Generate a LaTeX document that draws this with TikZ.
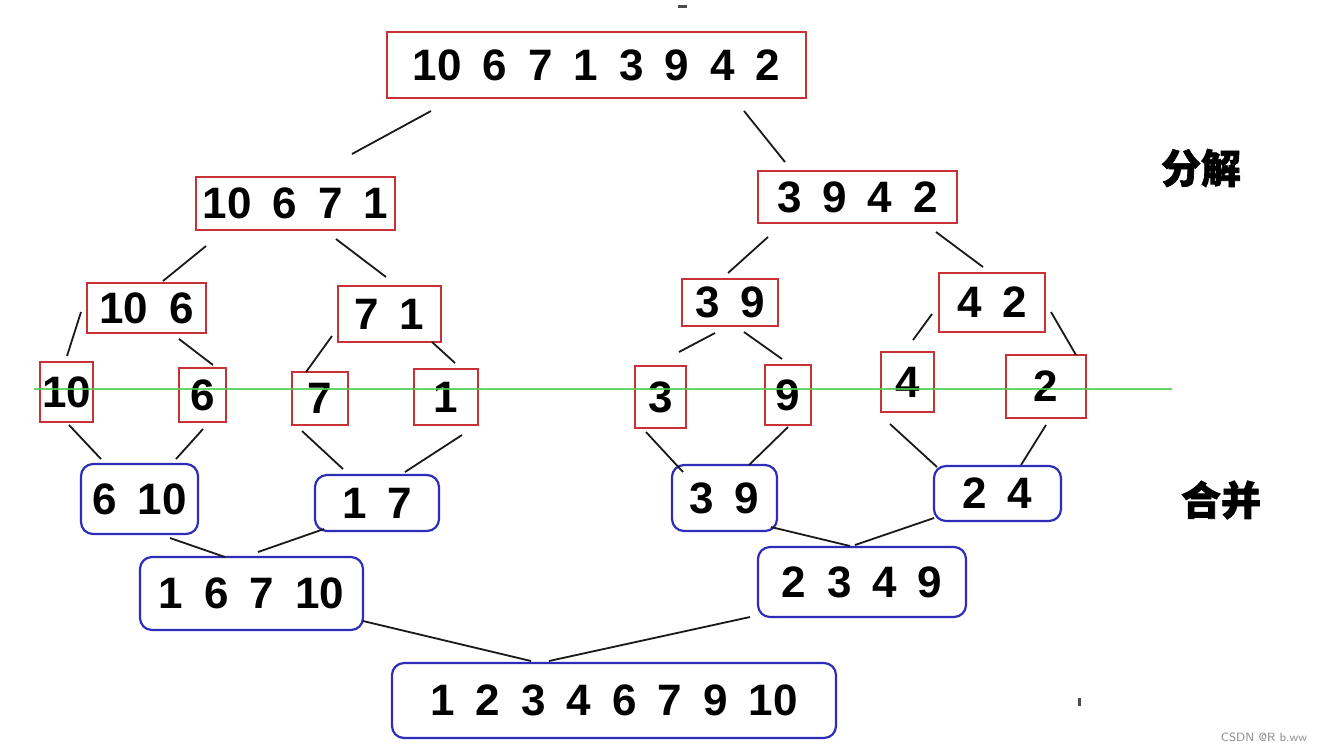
\documentclass[tikz,border=0pt]{standalone}
\usepackage{fontspec}
\setmainfont{Liberation Sans}
\newfontfamily\cjk{Noto Sans CJK SC}[BoldFeatures={FakeBold=1.6}]
\definecolor{boxred}{RGB}{200,50,55}
\definecolor{boxblue}{RGB}{45,45,185}
\definecolor{cutgreen}{RGB}{80,205,80}
\newcommand\mynumfont{\bfseries\fontsize{22}{24}\selectfont\spaceskip 10.5pt\relax}
\begin{document}
\begin{tikzpicture}[x=0.5pt,y=-0.5pt,
  num/.style={font=\mynumfont, inner sep=0pt, text=black},
  redbox/.style={num, draw=boxred, line width=1pt},
  bluebox/.style={num, draw=boxblue, line width=1.1pt, rounded corners=6pt},
  link/.style={line width=0.9pt, draw=black!90},
  lbl/.style={font=\cjk\bfseries\fontsize{20}{22}\selectfont, inner sep=0pt},
  cut/.style={draw=cutgreen, line width=1.3pt, opacity=0.85}]
\useasboundingbox (0,0) rectangle (1322,752);
\fill[white] (0,0) rectangle (1322,752);
% split (red) boxes
\node[redbox, minimum width=209.5pt, minimum height=33pt] (top) at (596.5,65) {10 6 7 1 3 9 4 2};
\node[redbox, minimum width=99.5pt, minimum height=26.5pt] (la) at (295.5,203.5) {10 6 7 1};
\node[redbox, minimum width=99.5pt, minimum height=26pt] (lb) at (857.5,197) {3 9 4 2};
\node[redbox, minimum width=59.5pt, minimum height=25pt] (ma) at (146.5,308) {10 6};
\node[redbox, minimum width=51.5pt, minimum height=28pt] (mb) at (389.5,314) {7 1};
\node[redbox, minimum width=48pt, minimum height=23.5pt] (mc) at (730,302.5) {3 9};
\node[redbox, minimum width=53pt, minimum height=29.5pt] (md) at (992,302.5) {4 2};
\node[redbox, minimum width=26.5pt, minimum height=30pt] (s10) at (66.5,392) {10};
\node[redbox, minimum width=23.5pt, minimum height=27pt] (s6) at (202.5,395) {6};
\node[redbox, minimum width=28pt, minimum height=26.5pt] (s7) at (320,398.5) {7};
\node[redbox, minimum width=32pt, minimum height=28pt] (s1) at (446,397) {1};
\node[redbox, minimum width=25.5pt, minimum height=31pt] (s3) at (660.5,397) {3};
\node[redbox, minimum width=23pt, minimum height=30pt] (s9) at (788,395) {9};
\node[redbox, minimum width=26.5pt, minimum height=30pt] (s4) at (907.5,382) {4};
\node[redbox, minimum width=40pt, minimum height=31.5pt] (s2) at (1046,386.5) {2};
% merge (blue) boxes
\node[bluebox, minimum width=58.5pt, minimum height=35pt] (ga) at (139.5,499) {6 10};
\node[bluebox, minimum width=62pt, minimum height=28pt] (gb) at (377,503) {1 7};
\node[bluebox, minimum width=52.5pt, minimum height=33pt] (gc) at (724.5,498) {3 9};
\node[bluebox, minimum width=63.5pt, minimum height=27.5pt] (gd) at (997.5,493.5) {2 4};
\node[bluebox, minimum width=111.5pt, minimum height=36.5pt] (ha) at (251.5,593.5) {1 6 7 10};
\node[bluebox, minimum width=104pt, minimum height=35pt] (hb) at (862,582) {2 3 4 9};
\node[bluebox, minimum width=222pt, minimum height=37.5pt] (fin) at (614,700.5) {1 2 3 4 6 7 9 10};
% connectors
\foreach \n/\xa/\ya/\xb/\yb in {
  1/431/111/352/154, 2/744/111/785/162, 3/206/246/163/281, 4/336/239/386/277,
  5/768/237/728/273, 6/936/232/983/267, 7/81/312/67/356, 8/179/339/213/365,
  9/332/336/306/372, 10/432/342/455/363, 11/715/333/679/352, 12/744/332/782/359,
  13/932/314/913/340, 14/1051/312/1076/355,
  15/69/425/101/459, 16/203/429/176/459, 17/302/431/343/469, 18/462/435/405/472,
  19/646/432/683/472, 20/788/427/749/465, 21/890/424/937/467, 22/1046/425/1021/465,
  23/170/538/225/557, 24/324/529/258/552, 25/771/527/850/546, 26/934/518/855/545,
  27/363/621/531/661, 28/750/617/549/661}{
  \coordinate (p\n) at (\xa,\ya);
  \coordinate (q\n) at (\xb,\yb);
  \draw[link] (p\n) -- (q\n);
}
% cut line
\coordinate (gl) at (34,389);
\coordinate (gr) at (1172,389);
\draw[cut] (gl) -- (gr);
% labels
\node[lbl] (split) at (1201,168) {分解};
\node[lbl] (merge) at (1221,500) {合并};
\node[font=\sffamily\fontsize{6}{7}\selectfont, text=black!45, inner sep=0pt] (wm) at (1264,737) {CSDN @R b.ww};
% specks
\fill[black!70] (678,5) rectangle (687,8);
\fill[black!70] (1078,698) rectangle (1081,706);
\end{tikzpicture}
\end{document}
